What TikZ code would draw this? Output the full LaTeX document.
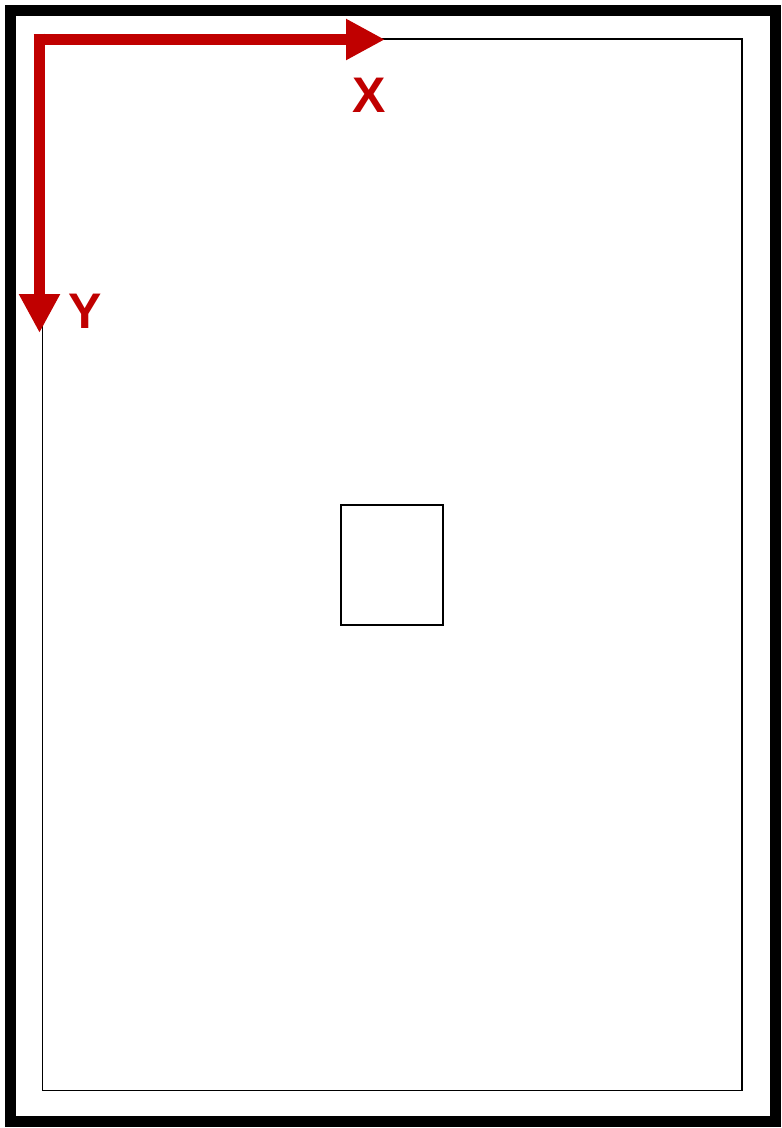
\documentclass[tikz,border=0pt]{standalone}
\usepackage{fontspec}
\setmainfont{Liberation Sans}
\usetikzlibrary{arrows.meta}
\definecolor{axisred}{RGB}{192,0,0}
\begin{document}
\begin{tikzpicture}[x=1pt,y=-1pt,
  frame/.style={draw=black,line width=11pt,inner sep=0pt,outer sep=0pt},
  box/.style={draw=black,line width=1.6pt,inner sep=0pt,outer sep=0pt},
  axis/.style={draw=axisred,line width=11.5pt,line cap=butt,
    -{Triangle[length=39pt,width=38.5pt]}},
  axislabel/.style={text=axisred,font=\fontsize{50}{60}\selectfont\bfseries,inner sep=0pt}]
\useasboundingbox (0,0) rectangle (782,1128);
\node[frame,minimum width=765.5pt,minimum height=1111pt] (outer) at (392.75,565.5) {};
\node[box,minimum width=699.5pt,minimum height=1051.5pt] (page) at (392.25,564.75) {};
\node[box,minimum width=102pt,minimum height=120pt] (item) at (391.7,565) {};
\coordinate (hstart) at (33.5,39.5);
\coordinate (vstart) at (39.5,33.5);
\coordinate (xtip) at (385,39.5);
\coordinate (ytip) at (39.5,333);
\draw[axis] (hstart) -- (xtip);
\draw[axis] (vstart) -- (ytip);
\node[axislabel] (xlabel) at (369,95.3) {X};
\node[axislabel] (ylabel) at (85.5,311.7) {Y};
\end{tikzpicture}
\end{document}
